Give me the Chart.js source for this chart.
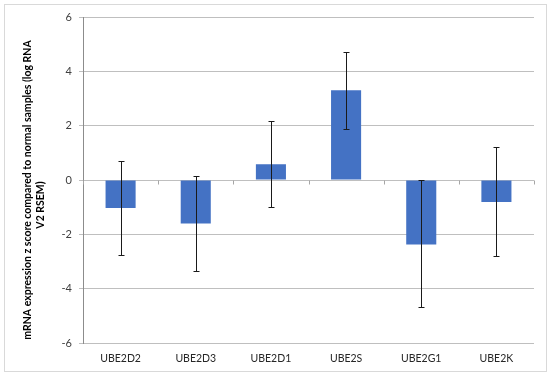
<!DOCTYPE html>
<html><head><meta charset="utf-8">
<script src="https://cdn.jsdelivr.net/npm/chart.js@4"></script>
<style>html,body{margin:0;padding:0;background:#fff;}canvas{display:block;}</style>
</head><body>
<canvas id="c" width="550" height="377"></canvas>
<script>
const categories = ['UBE2D2','UBE2D3','UBE2D1','UBE2S','UBE2G1','UBE2K'];
const values = [-1.03, -1.6, 0.58, 3.30, -2.37, -0.81];
const errUpper = [1.72, 1.73, 1.58, 1.43, 2.37, 2.02];
const errLower = [1.72, 1.75, 1.58, 1.43, 2.32, 2.00];
const yTicks = [-6,-4,-2,0,2,4,6];
const titleLines = ['mRNA expression z score compared to normal samples (log RNA', 'V2 RSEM)'];

const FONT = 'Lato, "Open Sans", sans-serif';

const framePlugin = {
  id: 'frame',
  beforeDraw(chart) {
    const ctx = chart.ctx;
    ctx.save();
    ctx.fillStyle = '#fff';
    ctx.fillRect(0,0,chart.width,chart.height);
    ctx.strokeStyle = '#d9d9d9';
    ctx.lineWidth = 1;
    ctx.strokeRect(4.5, 4.5, 542, 367);
    ctx.restore();
  },
  afterDraw(chart) {
    const ctx = chart.ctx;
    ctx.save();
    ctx.fillStyle = '#000';
    ctx.font = 'bold 10.5px ' + FONT;
    ctx.textAlign = 'center';
    ctx.textBaseline = 'middle';
    ctx.translate(28, 190);
    ctx.rotate(-Math.PI/2);
    ctx.fillText(titleLines[0], 0, 0);
    ctx.fillText(titleLines[1], -15, 13);
    ctx.restore();
  }
};

const errorPlugin = {
  id: 'errbars',
  afterDatasetsDraw(chart) {
    const ctx = chart.ctx;
    const xs = chart.scales.x, ys = chart.scales.y;
    const meta = chart.getDatasetMeta(0);
    ctx.save();
    ctx.strokeStyle = '#a6a6a6';
    ctx.lineWidth = 1;
    const y0 = Math.round(ys.getPixelForValue(0)) + 0.5;
    for (let i = 0; i <= categories.length; i++) {
      let x;
      if (i === 0) x = xs.left; else if (i === categories.length) x = xs.right;
      else x = (xs.getPixelForValue(i-1) + xs.getPixelForValue(i)) / 2;
      x = Math.round(x) + 0.5;
      ctx.beginPath(); ctx.moveTo(x, y0); ctx.lineTo(x, y0 + 4); ctx.stroke();
    }
    ctx.strokeStyle = '#1a1a1a';
    meta.data.forEach((bar, i) => {
      const x = Math.round(bar.x) + 0.5;
      const yt = Math.round(ys.getPixelForValue(values[i] + errUpper[i])) + 0.5;
      const yb = Math.round(ys.getPixelForValue(values[i] - errLower[i])) + 0.5;
      ctx.beginPath();
      ctx.moveTo(x, yt); ctx.lineTo(x, yb);
      ctx.moveTo(x-3, yt); ctx.lineTo(x+3, yt);
      ctx.moveTo(x-3, yb); ctx.lineTo(x+3, yb);
      ctx.stroke();
    });
    ctx.restore();
  }
};

new Chart(document.getElementById('c'), {
  type: 'bar',
  data: {
    labels: categories,
    datasets: [{
      data: values,
      backgroundColor: '#4472c4',
      borderWidth: 0,
      barPercentage: 0.4,
      categoryPercentage: 1.0
    }]
  },
  options: {
    responsive: false,
    animation: false,
    devicePixelRatio: 1,
    layout: { padding: { left: 0, right: 16, top: 17, bottom: 0 } },
    plugins: { legend: { display: false }, tooltip: { enabled: false }, title: { display: false } },
    scales: {
      x: {
        grid: { display: false, drawTicks: false },
        border: { display: false },
        ticks: { color: '#262626', font: { family: FONT, size: 10.5 }, padding: 9, maxRotation: 0 },
        afterFit(s) { s.height = 34; }
      },
      y: {
        min: -6, max: 6,
        afterBuildTicks(s) { s.ticks = yTicks.map(v => ({ value: v })); },
        grid: { color: '#bfbfbf', tickLength: 4, lineWidth: 1 },
        border: { color: '#8c8c8c' },
        ticks: { color: '#404040', font: { family: FONT, size: 11 }, padding: 7 },
        afterFit(s) { s.width = 83; }
      }
    }
  },
  plugins: [framePlugin, errorPlugin]
});
</script>
</body></html>
